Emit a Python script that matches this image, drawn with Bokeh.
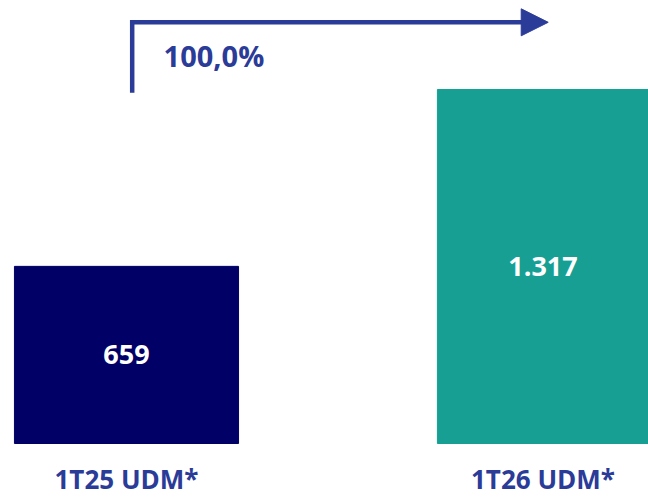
from bokeh.plotting import figure
from bokeh.models import Range1d, ColumnDataSource, Arrow, NormalHead
from bokeh.core.properties import value
from bokeh.embed import file_html
from bokeh.resources import INLINE

# ---- data ----
categories = ["1T25 UDM*", "1T26 UDM*"]
values = [659, 1317]
value_labels = ["659", "1.317"]
growth_label = "100,0%"

# ---- styles ----
bar_colors = ["#000066", "#179F93"]
bar_widths = [0.538, 0.507]
accent = "#2B3B98"
FONT = "Open Sans"

xs = list(range(len(categories)))
src = ColumnDataSource(dict(x=xs, top=values, cat=categories, lab=value_labels,
                            mid=[v / 2 for v in values], color=bar_colors, w=bar_widths))

p = figure(width=648, height=499, output_backend="svg", toolbar_location=None,
           x_range=Range1d(-0.3025, 1.2533), y_range=Range1d(-208.3, 1648.1),
           min_border=0, min_border_left=0, min_border_right=0,
           min_border_top=0, min_border_bottom=0)
p.axis.visible = False
p.grid.visible = False
p.outline_line_color = None
p.background_fill_color = "white"
p.border_fill_color = "white"

p.vbar(x="x", top="top", bottom=0, width="w", color="color", source=src)

# values inside bars
p.text(x="x", y="mid", text="lab", source=src, text_color="white",
       text_font=value(FONT), text_font_style="bold", text_font_size="27px",
       text_align="center", text_baseline="middle")

# category labels below
p.text(x="x", y=0, text="cat", source=src, text_color=accent,
       text_font=value(FONT), text_font_style="bold", text_font_size="26px",
       text_align="center", text_baseline="middle", y_offset=35)

# growth arrow (L-shape) from first bar to second bar
x0 = xs[0] + 0.0137
x1 = xs[1] + 0.0125
y_top = 1567
y_bot = 1305
p.line([x0, x0, x1 - 0.05], [y_bot, y_top, y_top], line_color=accent,
       line_width=4.5, line_join="miter")
p.add_layout(Arrow(x_start=x1 - 0.06, y_start=y_top, x_end=x1, y_end=y_top,
                   line_alpha=0, line_width=0,
                   end=NormalHead(size=27, fill_color=accent, line_color=accent, line_width=1)))
p.text(x=[xs[0] + 0.089], y=[1443], text=[growth_label], text_color=accent,
       text_font=value(FONT), text_font_style="bold", text_font_size="29px",
       text_align="left", text_baseline="middle")

open("out.html", "w").write(file_html(p, INLINE))
